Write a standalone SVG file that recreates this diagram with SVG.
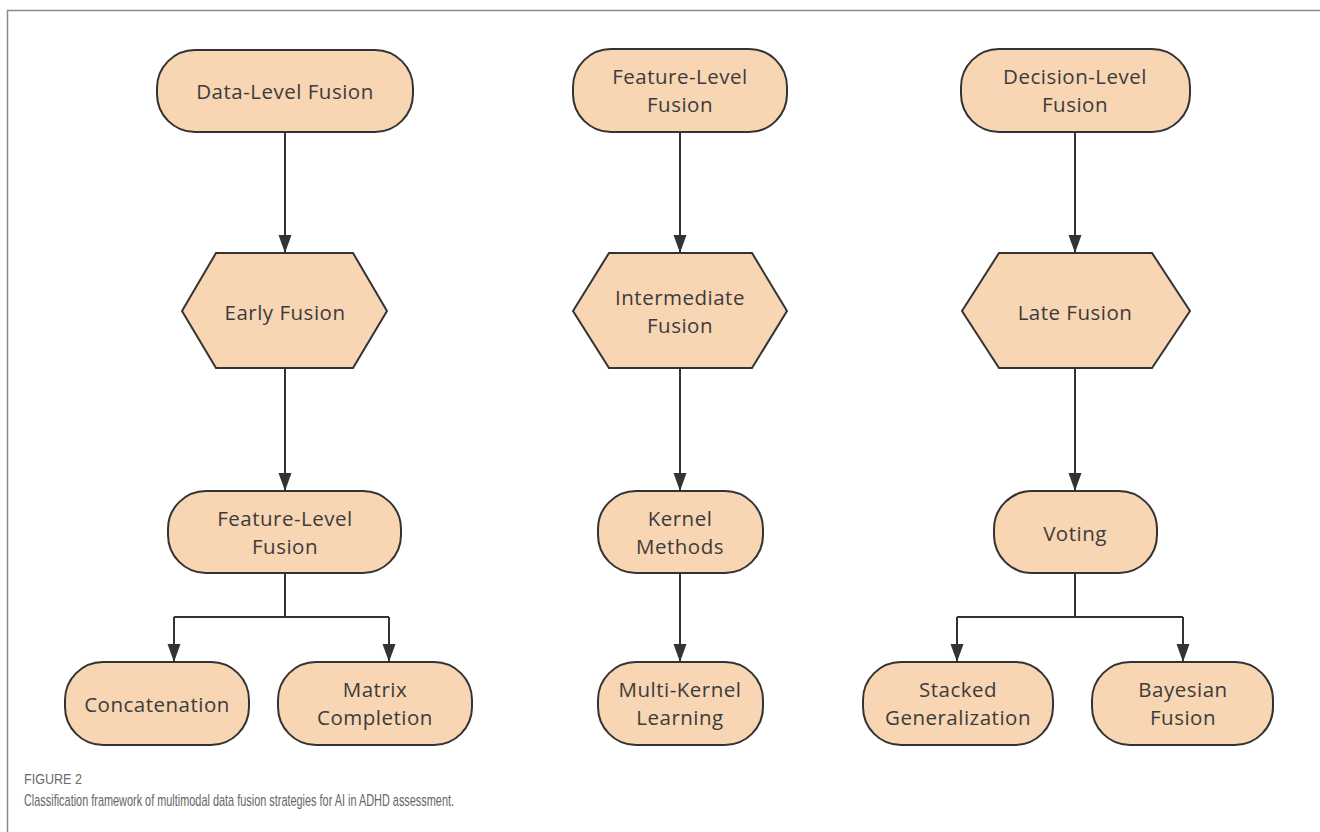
<svg xmlns="http://www.w3.org/2000/svg" width="1320" height="832" viewBox="0 0 1320 832">
<style>
.n{fill:#F8D5B3;stroke:#333;stroke-width:2}
.t{font-family:"Open Sans","Noto Sans",sans-serif;font-size:20.5px;letter-spacing:0.5px;fill:#3c3c3c;text-anchor:middle}
.c{fill:none;stroke:#333;stroke-width:2}
</style>
<defs>
<marker id="a" markerUnits="userSpaceOnUse" markerWidth="18" markerHeight="14" viewBox="0 0 18 14" refX="17" refY="7" orient="auto">
<path d="M0,0.5 L18,7 L0,13.5 Z" fill="#333"/>
</marker>
</defs>
<rect width="1320" height="832" fill="#fff"/>
<path d="M7.5,832 V10.5 H1320" fill="none" stroke="#8a8a8a" stroke-width="1.5"/>

<g id="connectors">
<path class="c" d="M285,132 V252" marker-end="url(#a)"/>
<path class="c" d="M285,368 V490" marker-end="url(#a)"/>
<path class="c" d="M285,573 V617 M174,617 H389"/>
<path class="c" d="M174,617 V661" marker-end="url(#a)"/>
<path class="c" d="M389,617 V661" marker-end="url(#a)"/>
<path class="c" d="M680,132 V252" marker-end="url(#a)"/>
<path class="c" d="M680,368 V490" marker-end="url(#a)"/>
<path class="c" d="M680,573 V661" marker-end="url(#a)"/>
<path class="c" d="M1075,132 V252" marker-end="url(#a)"/>
<path class="c" d="M1075,368 V490" marker-end="url(#a)"/>
<path class="c" d="M1075,573 V617 M957,617 H1183"/>
<path class="c" d="M957,617 V661" marker-end="url(#a)"/>
<path class="c" d="M1183,617 V661" marker-end="url(#a)"/>
</g>

<g id="data-level-fusion">
<rect class="n" x="157" y="50" width="256" height="82" rx="38"/>
<text class="t" x="285" y="98.5">Data-Level Fusion</text>
</g>
<g id="early-fusion">
<polygon class="n" points="182,311 216,253 353,253 387,311 353,368 216,368"/>
<text class="t" x="285" y="319.5">Early Fusion</text>
</g>
<g id="feature-level-fusion-left">
<rect class="n" x="168" y="491" width="233" height="82" rx="38"/>
<text class="t" x="285" y="526">Feature-Level</text>
<text class="t" x="285" y="554">Fusion</text>
</g>
<g id="concatenation">
<rect class="n" x="65" y="662" width="184" height="83" rx="38"/>
<text class="t" x="157" y="711.5">Concatenation</text>
</g>
<g id="matrix-completion">
<rect class="n" x="278" y="662" width="194" height="83" rx="38"/>
<text class="t" x="375" y="697">Matrix</text>
<text class="t" x="375" y="725">Completion</text>
</g>

<g id="feature-level-fusion">
<rect class="n" x="573" y="49" width="214" height="83" rx="38"/>
<text class="t" x="680" y="84">Feature-Level</text>
<text class="t" x="680" y="112">Fusion</text>
</g>
<g id="intermediate-fusion">
<polygon class="n" points="573,311 609,253 752,253 787,311 752,368 609,368"/>
<text class="t" x="680" y="305">Intermediate</text>
<text class="t" x="680" y="333">Fusion</text>
</g>
<g id="kernel-methods">
<rect class="n" x="598" y="491" width="165" height="82" rx="38"/>
<text class="t" x="680" y="526">Kernel</text>
<text class="t" x="680" y="554">Methods</text>
</g>
<g id="multi-kernel-learning">
<rect class="n" x="598" y="662" width="165" height="83" rx="38"/>
<text class="t" x="680" y="697">Multi-Kernel</text>
<text class="t" x="680" y="725">Learning</text>
</g>

<g id="decision-level-fusion">
<rect class="n" x="961" y="49" width="229" height="83" rx="38"/>
<text class="t" x="1075" y="84">Decision-Level</text>
<text class="t" x="1075" y="112">Fusion</text>
</g>
<g id="late-fusion">
<polygon class="n" points="962,311 999,253 1152,253 1190,311 1152,368 999,368"/>
<text class="t" x="1075" y="319.5">Late Fusion</text>
</g>
<g id="voting">
<rect class="n" x="994" y="491" width="163" height="82" rx="38"/>
<text class="t" x="1075" y="540.5">Voting</text>
</g>
<g id="stacked-generalization">
<rect class="n" x="863" y="662" width="190" height="83" rx="38"/>
<text class="t" x="958" y="697">Stacked</text>
<text class="t" x="958" y="725">Generalization</text>
</g>
<g id="bayesian-fusion">
<rect class="n" x="1092" y="662" width="181" height="83" rx="38"/>
<text class="t" x="1183" y="697">Bayesian</text>
<text class="t" x="1183" y="725">Fusion</text>
</g>

<g id="caption">
<text x="24" y="783.5" font-family="'Liberation Sans Narrow','Liberation Sans',sans-serif" font-size="14" fill="#6a6a6a" textLength="58" lengthAdjust="spacingAndGlyphs">FIGURE 2</text>
<text x="24" y="806" font-family="'Liberation Sans Narrow','Liberation Sans',sans-serif" font-size="17" fill="#666" textLength="430" lengthAdjust="spacingAndGlyphs">Classification framework of multimodal data fusion strategies for AI in ADHD assessment.</text>
</g>
</svg>
